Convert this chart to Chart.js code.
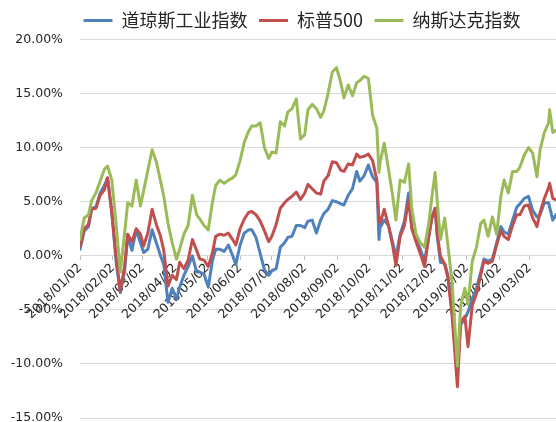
<!DOCTYPE html>
<html><head><meta charset="utf-8">
<script src="https://cdn.jsdelivr.net/npm/chart.js@4/dist/chart.umd.min.js"></script>
<style>html,body{margin:0;padding:0;background:#fff}#wrap{width:556px;height:422px}</style>
</head><body><div id="wrap"><canvas id="c" width="556" height="422"></canvas></div>
<script>
const dates = [
'2018/01/02','2018/01/06','2018/01/10','2018/01/13','2018/01/17','2018/01/21','2018/01/25','2018/01/28',
'2018/02/01','2018/02/05','2018/02/09','2018/02/13','2018/02/16','2018/02/20','2018/02/24','2018/02/28',
'2018/03/03','2018/03/07','2018/03/11','2018/03/15','2018/03/19','2018/03/22','2018/03/26','2018/03/30',
'2018/04/03','2018/04/06','2018/04/10','2018/04/14','2018/04/18','2018/04/22','2018/04/25','2018/04/29',
'2018/05/03','2018/05/07','2018/05/10','2018/05/14','2018/05/18','2018/05/22','2018/05/26','2018/05/29',
'2018/06/02','2018/06/06','2018/06/10','2018/06/13','2018/06/17','2018/06/21','2018/06/25','2018/06/29',
'2018/07/02','2018/07/06','2018/07/10','2018/07/14','2018/07/17','2018/07/21','2018/07/25','2018/07/29',
'2018/08/02','2018/08/05','2018/08/09','2018/08/13','2018/08/17','2018/08/20','2018/08/24','2018/08/28',
'2018/09/01','2018/09/05','2018/09/08','2018/09/12','2018/09/16','2018/09/20','2018/09/23','2018/09/27',
'2018/10/01','2018/10/05','2018/10/09','2018/10/11','2018/10/12','2018/10/16','2018/10/20','2018/10/24','2018/10/27','2018/10/31',
'2018/11/04','2018/11/08','2018/11/11','2018/11/15','2018/11/19','2018/11/23','2018/11/27','2018/11/30',
'2018/12/03','2018/12/05','2018/12/08','2018/12/12','2018/12/15','2018/12/19','2018/12/24','2018/12/27','2018/12/31',
'2019/01/03','2019/01/07','2019/01/11','2019/01/15','2019/01/18','2019/01/22','2019/01/26','2019/01/30',
'2019/02/03','2019/02/06','2019/02/10','2019/02/14','2019/02/18','2019/02/21','2019/02/25',
'2019/03/01','2019/03/05','2019/03/09','2019/03/12','2019/03/16','2019/03/20','2019/03/21','2019/03/24','2019/03/27'
];
// 道琼斯工业指数 (%)
const dowJones = [
0.6,2.3,2.7,4.4,4.5,5.8,6.5,7.2,
4.0,-0.5,-3.4,-1.5,1.8,0.5,2.4,1.2,
0.3,0.6,2.4,1.2,0.0,-0.8,-4.3,-3.0,
-4.0,-2.9,-1.8,-1.0,0.0,-1.5,-1.5,-1.7,
-2.9,-0.4,0.6,0.6,0.4,1.0,0.0,-0.8,
1.0,2.1,2.4,2.4,1.7,0.2,-1.3,-1.8,
-1.4,-1.2,0.8,1.2,1.7,1.8,2.8,2.8,
2.6,3.2,3.3,2.1,3.3,3.9,4.3,5.1,
5.0,4.8,4.7,5.6,6.2,7.8,6.9,7.4,
8.4,7.3,6.8,1.5,2.6,3.3,2.8,1.2,-0.1,2.0,
3.2,5.8,2.6,1.6,0.6,-0.5,1.8,3.6,
4.4,1.8,-0.6,-0.7,-1.8,-5.0,-10.6,-6.4,-5.8,
-5.2,-4.0,-3.0,-1.5,-0.3,-0.5,-0.3,1.2,
2.7,2.2,2.0,3.3,4.5,4.8,5.3,
5.5,4.2,3.6,3.8,4.9,4.9,4.5,3.3,3.8
];
// 标普500 (%)
const sp500 = [
0.9,2.5,2.9,4.3,4.4,5.6,6.1,7.2,
4.0,0.0,-3.3,-1.0,2.0,1.3,2.5,2.0,
0.9,2.1,4.3,2.9,1.8,0.5,-2.8,-1.8,
-2.2,-0.6,-1.2,-0.4,1.5,0.5,-0.3,-0.4,
-1.0,0.3,1.8,2.0,1.9,2.1,1.5,1.0,
2.5,3.4,4.0,4.1,3.8,3.2,2.3,1.3,
1.8,2.9,4.4,4.9,5.2,5.5,5.9,5.2,
5.8,6.6,6.2,5.8,5.7,6.9,7.4,8.7,
8.6,7.9,7.8,8.5,8.4,9.4,9.1,9.2,
9.4,8.8,7.0,3.3,3.0,4.3,2.8,0.9,-0.9,1.8,
2.8,5.2,2.5,1.3,0.2,-1.0,1.8,3.5,
4.4,2.0,0.0,-0.8,-2.0,-5.6,-12.1,-6.2,-5.6,
-8.4,-4.6,-3.5,-1.8,-0.5,-0.7,-0.5,1.0,
2.3,1.8,1.5,2.8,3.8,3.8,4.6,
4.7,3.5,2.7,4.0,5.3,6.3,6.7,5.3,5.2
];
// 纳斯达克指数 (%)
const nasdaq = [
1.5,3.5,3.8,5.1,5.8,6.9,8.0,8.3,
7.0,3.0,-1.5,2.0,4.9,4.6,7.0,4.6,
6.0,7.9,9.8,8.7,6.9,5.5,3.0,1.2,
-0.3,0.6,2.0,2.8,5.6,3.8,3.4,2.8,
2.4,5.0,6.5,7.0,6.7,7.0,7.2,7.5,
8.8,10.5,11.5,12.0,12.0,12.3,10.0,9.0,
9.6,9.5,12.4,12.0,13.3,13.6,14.5,10.8,
11.2,13.5,14.0,13.6,12.8,13.4,15.0,17.0,
17.4,16.0,14.6,15.8,14.8,16.0,16.2,16.6,
16.4,13.0,11.8,7.7,8.6,10.4,8.0,5.5,3.3,7.0,
6.8,8.5,4.3,2.0,1.2,0.8,3.0,5.5,
7.7,5.0,1.5,3.5,1.0,-2.5,-10.2,-4.7,-3.0,
-4.5,-0.5,0.8,3.0,3.3,1.8,3.6,2.0,
5.5,7.0,5.8,7.8,7.8,8.2,9.3,
10.0,9.5,7.3,9.8,11.4,12.3,13.5,11.4,11.6
];
const seriesNames = ['道琼斯工业指数', '标普500', '纳斯达克指数'];
const seriesColors = ['#4F81BD', '#C0504D', '#9BBB59'];
const xTickLabels = ['2018/01/02','2018/02/02','2018/03/02','2018/04/02','2018/05/02','2018/06/02','2018/07/02',
  '2018/08/02','2018/09/02','2018/10/02','2018/11/02','2018/12/02','2019/01/02','2019/02/02','2019/03/02'];
const yTickValues = [-15, -10, -5, 0, 5, 10, 15, 20];

const base = dates[0];
function dayOf(s) {
  const p = s.split('/').map(Number), b = base.split('/').map(Number);
  return (Date.UTC(p[0], p[1]-1, p[2]) - Date.UTC(b[0], b[1]-1, b[2])) / 86400000;
}
function pts(vals) { return dates.map((d, i) => ({ x: dayOf(d), y: vals[i] })); }

const allSeries = [dowJones, sp500, nasdaq];
const datasets = allSeries.map((vals, k) => ({
  label: seriesNames[k],
  data: pts(vals),
  borderColor: seriesColors[k],
  backgroundColor: seriesColors[k],
  borderWidth: 3,
  pointRadius: 0,
  pointHoverRadius: 0,
  tension: 0,
  borderJoinStyle: 'round',
  borderCapStyle: 'round',
  order: 3 - k
}));

const legendPlace = {
  id: 'legendPlace',
  afterLayout(chart) {
    const lg = chart.legend;
    const w = lg.right - lg.left;
    lg.left = 72; lg.right = 72 + w;
  }
};

const tickFont = { family: 'DejaVu Sans', size: 12.5 };
new Chart(document.getElementById('c'), {
  type: 'line',
  data: { datasets },
  plugins: [legendPlace],
  options: {
    responsive: false,
    animation: false,
    devicePixelRatio: 1,
    layout: { autoPadding: false, padding: 0 },
    plugins: {
      tooltip: { enabled: false },
      legend: {
        position: 'top',
        fullSize: false,
        align: 'start',
        labels: {
          boxWidth: 29,
          boxHeight: 3,
          padding: 11.5,
          color: '#262626',
          font: { family: "'Noto Sans CJK SC'", size: 18 },
          sort: (a, b) => a.datasetIndex - b.datasetIndex,
          generateLabels(chart) {
            const items = Chart.defaults.plugins.legend.labels.generateLabels(chart);
            items.forEach(it => { it.fillStyle = it.strokeStyle; it.lineWidth = 0; });
            return items;
          }
        }
      }
    },
    scales: {
      x: {
        type: 'linear',
        position: { y: 0 },
        min: 0,
        max: dayOf(dates[dates.length - 1]),
        afterBuildTicks(s) { s.ticks = xTickLabels.map(l => ({ value: dayOf(l) })); },
        ticks: {
          autoSkip: false, minRotation: 45, maxRotation: 45, padding: 1,
          font: tickFont, color: '#262626',
          callback: (v, i) => xTickLabels[i]
        },
        grid: { drawOnChartArea: false, drawTicks: true, tickLength: 4, color: '#bfbfbf' },
        border: { color: '#d9d9d9' }
      },
      y: {
        min: -15, max: 20,
        afterBuildTicks(s) { s.ticks = yTickValues.map(v => ({ value: v })); },
        ticks: { padding: 17, font: tickFont, color: '#262626', callback: v => v.toFixed(2) + '%' },
        grid: { color: '#d9d9d9', drawTicks: false, lineWidth: 1 },
        border: { display: false },
        afterFit(s) { s.width = 80; s.paddingTop = 0; s.paddingBottom = 4; }
      }
    }
  }
});
</script></body></html>
